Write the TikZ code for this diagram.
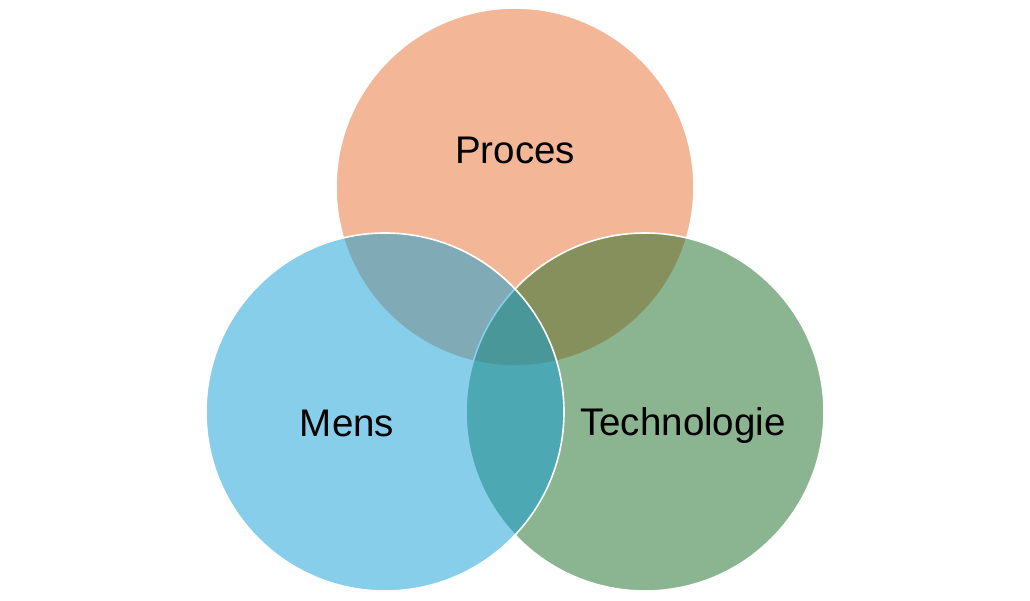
\documentclass[tikz,border=0pt]{standalone}
\usepackage{fontspec}
\setmainfont{Liberation Sans}
\definecolor{procescol}{HTML}{E97132}
\definecolor{menscol}{HTML}{0F9ED5}
\definecolor{techcol}{HTML}{196B24}
\tikzset{
  bubble/.style={circle, minimum size=358pt, inner sep=0pt, fill opacity=.5, draw=white, line width=1.6pt},
  word/.style={font=\fontsize{38.5}{42}\selectfont, text=black}
}
\begin{document}
\begin{tikzpicture}[x=1pt,y=-1pt]
\useasboundingbox[fill=white] (0,0) rectangle (1030,601);

\node[bubble, fill=procescol] (proces) at (515,187) {};
\node[bubble, fill=techcol] (tech) at (645,412) {};
\node[bubble, fill=menscol] (mens) at (385,412) {};

\node[word] (procestxt) at (515,150) {Proces};
\node[word] (menstxt) at (347,423) {Mens};
\node[word] (techtxt) at (683,426) {Technologie};
\end{tikzpicture}
\end{document}
